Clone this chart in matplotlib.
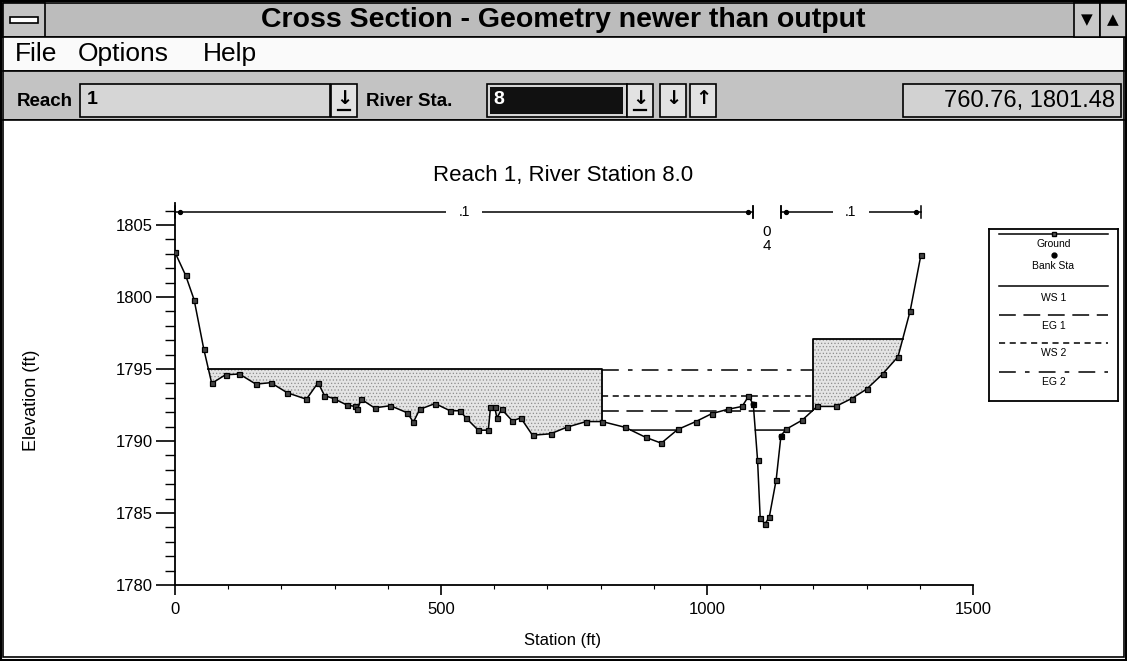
import numpy as np
import matplotlib
matplotlib.use("Agg")
import matplotlib.pyplot as plt
from matplotlib.patches import Rectangle
from matplotlib.ticker import MultipleLocator

plt.rcParams['font.family'] = ['Liberation Sans', 'DejaVu Sans']
plt.rcParams['hatch.linewidth'] = 0.5

# ground points of the cross section (station ft, elevation ft)
station = [0, 20, 36, 54, 69, 95, 121, 152, 180, 211, 247, 269, 281, 298, 323,
           338, 343, 350, 375, 405, 437, 448, 460, 489, 517, 536, 547, 570, 589,
           593, 601, 605, 614, 634, 650, 672, 706, 736, 773, 803, 846, 885, 914,
           945, 979, 1009, 1039, 1066, 1078, 1087, 1095, 1100, 1109, 1117, 1130,
           1139, 1148, 1179, 1207, 1242, 1272, 1300, 1330, 1359, 1382, 1402]
elevation = [1803.1, 1801.5, 1799.8, 1796.4, 1794.0, 1794.6, 1794.65, 1793.95,
             1794.05, 1793.35, 1792.9, 1794.05, 1793.15, 1792.95, 1792.5, 1792.4,
             1792.2, 1792.9, 1792.3, 1792.45, 1791.95, 1791.3, 1792.2, 1792.6,
             1792.1, 1792.1, 1791.6, 1790.75, 1790.75, 1792.35, 1792.35, 1791.6,
             1792.2, 1791.4, 1791.6, 1790.4, 1790.5, 1790.95, 1791.35, 1791.35,
             1790.95, 1790.25, 1789.85, 1790.8, 1791.35, 1791.9, 1792.2, 1792.4,
             1793.1, 1792.55, 1788.7, 1784.65, 1784.25, 1784.7, 1787.3, 1790.35,
             1790.8, 1791.45, 1792.4, 1792.4, 1792.95, 1793.6, 1794.65, 1795.85,
             1799.05, 1802.9]
bank_sta = [1087, 1139]

# ineffective flow areas: (edge station, elevation)
left_ineff = (803, 1795.0)
right_ineff = (1199, 1797.1)

# water surface / energy grade for the two profiles
ws1, eg1 = 1790.76, 1792.05
ws2, eg2 = 1793.1, 1794.93

# Manning's n regions
n_breaks = [0, 1087, 1139, 1402]
n_values = ['.1', '.04', '.1']

x_ticks = [0, 500, 1000, 1500]
y_ticks = [1780, 1785, 1790, 1795, 1800, 1805]
legend_labels = ['Ground', 'Bank Sta', 'WS 1', 'EG 1', 'WS 2', 'EG 2']

W, H = 1127, 661
fig = plt.figure(figsize=(W / 100, H / 100), dpi=100)

# ---------------- window chrome (pixel coordinates) ----------------
ui = fig.add_axes([0, 0, 1, 1])
ui.set_xlim(0, W)
ui.set_ylim(H, 0)
ui.axis('off')


def rect(x, y, w, h, fc, ec='black', lw=1.0, z=1):
    ui.add_patch(Rectangle((x, y), w, h, facecolor=fc, edgecolor=ec, linewidth=lw, zorder=z))


rect(1, 1, W - 2, H - 2, 'white', lw=1.5)
# title bar
rect(3, 3, W - 6, 34, '#bcbcbc', lw=1.2)
rect(3, 3, 42, 34, '#c4c4c4', lw=1.2)
rect(10, 17, 28, 6, 'white', lw=1.2, z=2)
rect(1074, 3, 26, 34, '#c8c8c8', lw=1.2, z=2)
rect(1100, 3, 26, 34, '#c8c8c8', lw=1.2, z=2)
ui.text(1087, 20, '▼', ha='center', va='center', fontsize=11, family='DejaVu Sans', zorder=3)
ui.text(1113, 20, '▲', ha='center', va='center', fontsize=11, family='DejaVu Sans', zorder=3)
ui.text(563, 20, 'Cross Section - Geometry newer than output', ha='center', va='center',
        fontsize=20.5, fontweight='bold', zorder=3)

# menu bar
rect(3, 37, W - 6, 34, '#fafafa', lw=1.2)
for label, x in [('File', 15), ('Options', 78), ('Help', 203)]:
    ui.text(x, 54, label, ha='left', va='center', fontsize=19)

# tool bar
rect(3, 71, W - 6, 49, '#c3c3c3', lw=1.2)
ui.text(17, 102, 'Reach', ha='left', va='center', fontsize=13.5, fontweight='bold')
rect(80, 84, 250, 33, '#d6d6d6', lw=1.2)
ui.text(87, 100, '1', ha='left', va='center', fontsize=14, fontweight='bold')
ui.text(366, 102, 'River Sta.', ha='left', va='center', fontsize=13.5, fontweight='bold')
rect(487, 84, 140, 33, '#d6d6d6', lw=1.2)
rect(490, 87, 133, 27, '#111111', ec='none')
ui.text(493, 99, '8', ha='left', va='center', fontsize=14, fontweight='bold', color='white')
for bx, arrow, underline in [(331, '↓', True), (627, '↓', True), (660, '↓', False), (690, '↑', False)]:
    rect(bx, 84, 26, 33, '#e2e2e2', lw=1.2)
    ui.text(bx + 13, 99, arrow, ha='center', va='center', fontsize=14, fontweight='bold',
            family='DejaVu Sans')
    if underline:
        ui.plot([bx + 7, bx + 19], [110, 110], color='black', lw=1.6)
rect(903, 84, 218, 33, '#d2d2d2', lw=1.2)
ui.text(1115, 101, '760.76, 1801.48', ha='right', va='center', fontsize=17)

# plot panel
rect(3, 120, W - 6, 537, 'white', lw=1.2)

# ---------------- cross-section plot ----------------
sta = np.array(station, dtype=float)
elev = np.array(elevation, dtype=float)


def ground(x):
    return np.interp(x, sta, elev)


def crossing(level, lo, hi):
    # station where the ground passes through `level` between lo and hi
    for i in range(len(sta) - 1):
        if sta[i] < lo or sta[i + 1] > hi:
            continue
        a, b = elev[i] - level, elev[i + 1] - level
        if a == 0:
            return sta[i]
        if a * b < 0:
            return sta[i] + a / (a - b) * (sta[i + 1] - sta[i])
    return lo


ax = fig.add_axes([175 / W, 1 - 585 / H, (973 - 175) / W, (585 - 203.4) / H], zorder=5)
ax.set_xlim(0, 1500)
ax.set_ylim(1780, 1806.5)
ax.patch.set_alpha(0)
for side in ['top', 'right']:
    ax.spines[side].set_visible(False)
for side in ['left', 'bottom']:
    ax.spines[side].set_linewidth(1.3)
ax.set_xticks(x_ticks)
ax.set_yticks(y_ticks)
ax.xaxis.set_minor_locator(MultipleLocator(100))
ax.yaxis.set_minor_locator(MultipleLocator(1))
ax.tick_params(axis='y', which='major', length=14, width=1.2, labelsize=12, pad=2)
ax.tick_params(axis='y', which='minor', length=7, width=1.0)
ax.tick_params(axis='x', which='major', length=7, width=1.2, labelsize=12, pad=5)
ax.tick_params(axis='x', which='minor', length=3, width=0.8)

fill_kw = dict(facecolor='#e4e4e4', edgecolor='#8c8c8c', hatch='.....', linewidth=0, zorder=2)

# left ineffective area
lx1, llev = left_ineff
lx0 = crossing(llev, 0, lx1)
xs = np.concatenate([[lx0], sta[(sta > lx0) & (sta < lx1)], [lx1]])
ax.fill_between(xs, ground(xs), llev, **fill_kw)
ax.plot([lx0, lx1, lx1], [llev, llev, ground(lx1)], color='black', lw=1.3, zorder=3)

# right ineffective area
rx0, rlev = right_ineff
rx1 = crossing(rlev, rx0, sta[-1])
xs = np.concatenate([[rx0], sta[(sta > rx0) & (sta < rx1)], [rx1]])
ax.fill_between(xs, ground(xs), rlev, **fill_kw)
ax.plot([rx0, rx0, rx1], [ground(rx0), rlev, rlev], color='black', lw=1.3, zorder=3)

# water surfaces and energy grades across the effective flow area
xx = np.linspace(lx1, rx0, 1200)
ws1_line = np.where(ground(xx) < ws1, ws1, np.nan)
ax.plot(xx, ws1_line, color='black', lw=1.1, zorder=3)
ax.plot([lx1, rx0], [eg1, eg1], color='black', lw=1.1, dashes=(11, 5), zorder=3)
ax.plot([lx1, rx0], [ws2, ws2], color='black', lw=1.1, dashes=(4, 3), zorder=3)
ax.plot([lx1, rx0], [eg2, eg2], color='black', lw=1.1, dashes=(11, 6, 3, 6), zorder=3)

# ground line and bank stations
ax.plot(sta, elev, color='black', lw=1.1, marker='s', ms=3.6, mfc='#444444',
        mec='black', mew=0.9, zorder=4)
ax.plot(bank_sta, ground(bank_sta), 'o', color='black', ms=3.2, zorder=5)

# Manning's n brackets above the section
yb = 1805.9
for a, b, label in zip(n_breaks[:-1], n_breaks[1:], n_values):
    ax.plot([a, a], [yb - 0.4, yb + 0.4], color='black', lw=1.1, clip_on=False)
    ax.plot([b, b], [yb - 0.4, yb + 0.4], color='black', lw=1.1, clip_on=False)
    mid = (a + b) / 2
    if b - a > 150:
        ax.plot([a, b], [yb, yb], color='black', lw=1.1, clip_on=False)
        ax.plot([a + 10, b - 10], [yb, yb], 'o', color='black', ms=2.8, clip_on=False)
        ax.text(mid, yb, label, ha='center', va='center', fontsize=10, zorder=6,
                bbox=dict(facecolor='white', edgecolor='none', pad=9), clip_on=False)
    else:
        for k, ch in enumerate(label.lstrip('.')):
            ax.text(mid, 1804.5 - 0.95 * k, ch, ha='center', va='center', fontsize=11)

fig.text(563 / W, 1 - 176 / H, 'Reach 1, River Station 8.0', ha='center', va='center',
         fontsize=16)
fig.text(32 / W, 1 - 400 / H, 'Elevation (ft)', ha='center', va='center', rotation=90,
         fontsize=13)
fig.text(563 / W, 1 - 640 / H, 'Station (ft)', ha='center', va='center', fontsize=12)

# ---------------- legend ----------------
lg = fig.add_axes([989 / W, 1 - 401 / H, 129 / W, 172 / H], zorder=6)
lg.set_xlim(0, 1)
lg.set_ylim(172, 0)
lg.set_xticks([])
lg.set_yticks([])
for s in lg.spines.values():
    s.set_linewidth(1.3)

samples = [
    dict(y=5, kw=dict(color='black', lw=1.1), marker='s'),
    dict(y=26, kw=None, marker='o'),
    dict(y=57, kw=dict(color='black', lw=1.1), marker=None),
    dict(y=86, kw=dict(color='black', lw=1.1, dashes=(11, 5)), marker=None),
    dict(y=114, kw=dict(color='black', lw=1.1, dashes=(4, 3)), marker=None),
    dict(y=143, kw=dict(color='black', lw=1.1, dashes=(11, 6, 3, 6)), marker=None),
]
label_y = [15, 37, 69, 97, 124, 153]
for smp, text, ty in zip(samples, legend_labels, label_y):
    if smp['kw'] is not None:
        lg.plot([0.08, 0.92], [smp['y'], smp['y']], **smp['kw'])
    if smp['marker'] == 's':
        lg.plot([0.5], [smp['y']], 's', color='black', ms=3.5, mfc='#555555')
    elif smp['marker'] == 'o':
        lg.plot([0.5], [smp['y']], 'o', color='black', ms=3.5)
    lg.text(0.5, ty, text, ha='center', va='center', fontsize=7.5)

fig.savefig('out.png', dpi=100)
